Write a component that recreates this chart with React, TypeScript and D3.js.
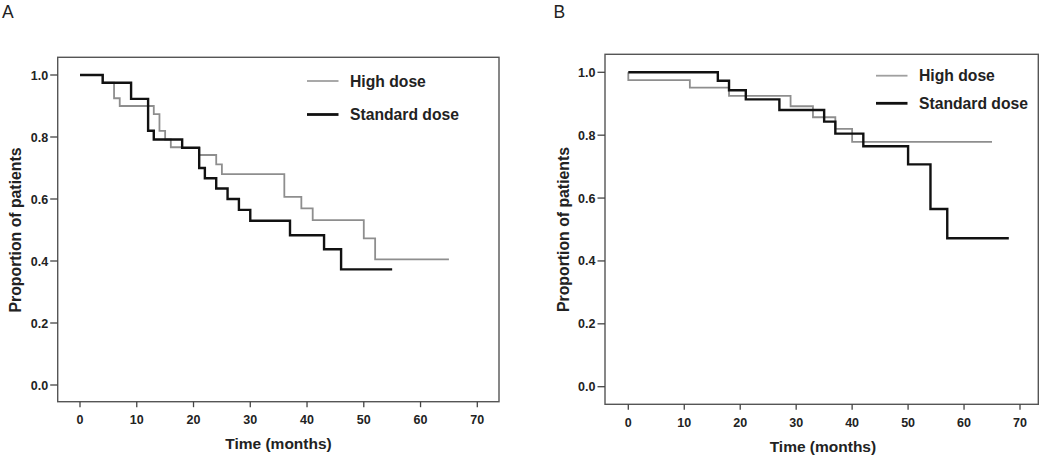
import React from "react";
import * as d3 from "d3";

// Kaplan-Meier steps (time in months, proportion)
const highA_t = [0, 4, 6, 7, 13, 14, 15, 16, 21, 24, 25, 36, 39, 41, 50, 52, 65];
const highA_s = [1, 0.975, 0.925, 0.9, 0.874, 0.82, 0.792, 0.767, 0.742, 0.712, 0.68, 0.607, 0.57, 0.532, 0.473, 0.405, 0.405];

const stdA_t = [0, 4, 9, 12, 13, 18, 21, 22, 24, 26, 28, 30, 37, 43, 46, 55];
const stdA_s = [1, 0.975, 0.923, 0.82, 0.792, 0.765, 0.7, 0.667, 0.634, 0.6, 0.565, 0.53, 0.483, 0.438, 0.373, 0.373];

const highB_t = [0, 0, 11, 18, 29, 33, 37, 40, 65];
const highB_s = [1, 0.975, 0.951, 0.925, 0.892, 0.857, 0.82, 0.779, 0.779];

const stdB_t = [0, 16, 18, 21, 27, 35, 37, 42, 50, 54, 57, 68];
const stdB_s = [1, 0.973, 0.943, 0.914, 0.88, 0.843, 0.805, 0.765, 0.707, 0.565, 0.472, 0.472];

const xTicks = [0, 10, 20, 30, 40, 50, 60, 70];
const yTicks = [0, 0.2, 0.4, 0.6, 0.8, 1.0];
const seriesNames = ["High dose", "Standard dose"];

const FONT = "'Liberation Sans', Arial, sans-serif";

interface PanelLayout {
  letter: string;
  letterX: number;
  frame: { l: number; t: number; r: number; b: number };
  x0: number;
  x70: number;
  y0: number;
  y1: number;
  legendX: number;
  legendY: [number, number];
  yTitleX: number;
  xLabelY: number;
  xTitleY: number;
  high: [number[], number[]];
  std: [number[], number[]];
}

const panels: PanelLayout[] = [
  {
    letter: "A",
    letterX: 2,
    frame: { l: 57.7, t: 57.3, r: 499, b: 401.7 },
    x0: 80,
    x70: 477.3,
    y0: 385,
    y1: 75,
    legendX: 307,
    legendY: [81, 114.5],
    yTitleX: 15,
    xLabelY: 424,
    xTitleY: 448.5,
    high: [highA_t, highA_s],
    std: [stdA_t, stdA_s],
  },
  {
    letter: "B",
    letterX: 553.5,
    frame: { l: 605, t: 54.3, r: 1038.3, b: 404.3 },
    x0: 628.3,
    x70: 1020,
    y0: 386.7,
    y1: 72.3,
    legendX: 876,
    legendY: [75.7, 103.3],
    yTitleX: 563.7,
    xLabelY: 426.5,
    xTitleY: 451.5,
    high: [highB_t, highB_s],
    std: [stdB_t, stdB_s],
  },
];

function Panel({ p }: { p: PanelLayout }) {
  const x = d3.scaleLinear().domain([0, 70]).range([p.x0, p.x70]);
  const y = d3.scaleLinear().domain([0, 1]).range([p.y0, p.y1]);
  const line = d3
    .line<[number, number]>()
    .x((d) => x(d[0]))
    .y((d) => y(d[1]))
    .curve(d3.curveStepAfter);
  const pts = (s: [number[], number[]]) =>
    s[0].map((t, i) => [t, s[1][i]] as [number, number]);
  const f = p.frame;
  const midY = (p.y0 + p.y1) / 2;

  return (
    <g>
      <text x={p.letterX} y={17.5} fontFamily={FONT} fontSize={17.5} fill="#222">
        {p.letter}
      </text>
      <rect
        x={f.l}
        y={f.t}
        width={f.r - f.l}
        height={f.b - f.t}
        fill="none"
        stroke="#555"
        strokeWidth={1.4}
      />
      {yTicks.map((v) => (
        <g key={v}>
          <line x1={f.l - 7.5} x2={f.l} y1={y(v)} y2={y(v)} stroke="#444" strokeWidth={1.3} />
          <text
            x={f.l - 9.5}
            y={y(v) + 4.5}
            textAnchor="end"
            fontFamily={FONT}
            fontWeight="bold"
            fontSize={12.5}
            fill="#222"
          >
            {d3.format(".1f")(v)}
          </text>
        </g>
      ))}
      {xTicks.map((v) => (
        <g key={v}>
          <line x1={x(v)} x2={x(v)} y1={f.b} y2={f.b + 5.5} stroke="#444" strokeWidth={1.3} />
          <text
            x={x(v)}
            y={p.xLabelY}
            textAnchor="middle"
            fontFamily={FONT}
            fontWeight="bold"
            fontSize={12.5}
            fill="#222"
          >
            {v}
          </text>
        </g>
      ))}
      <text
        x={(f.l + f.r) / 2 - 0.5 * ((f.r - f.l) / 2 - (x(35) - f.l))}
        y={p.xTitleY}
        textAnchor="middle"
        fontFamily={FONT}
        fontWeight="bold"
        fontSize={15.5}
        fill="#222"
      >
        Time (months)
      </text>
      <text
        transform={`translate(${p.yTitleX + 5.5},${midY}) rotate(-90)`}
        textAnchor="middle"
        fontFamily={FONT}
        fontWeight="bold"
        fontSize={15.8}
        fill="#222"
      >
        Proportion of patients
      </text>

      <path d={line(pts(p.high)) || ""} fill="none" stroke="#8e8e8e" strokeWidth={1.8} />
      <path d={line(pts(p.std)) || ""} fill="none" stroke="#111" strokeWidth={2.4} />

      {seriesNames.map((name, i) => (
        <g key={name}>
          <line
            x1={p.legendX}
            x2={p.legendX + 31.5}
            y1={p.legendY[i]}
            y2={p.legendY[i]}
            stroke={i === 0 ? "#a0a0a0" : "#111"}
            strokeWidth={i === 0 ? 1.8 : 2.8}
          />
          <text
            x={p.legendX + 43}
            y={p.legendY[i] + 5.6}
            fontFamily={FONT}
            fontWeight="bold"
            fontSize={15.7}
            fill="#222"
          >
            {name}
          </text>
        </g>
      ))}
    </g>
  );
}

export default function App() {
  return (
    <svg
      width={1050}
      height={457}
      style={{ position: "absolute", left: 0, top: 0, background: "#fff" }}
    >
      {panels.map((p) => (
        <Panel key={p.letter} p={p} />
      ))}
    </svg>
  );
}
